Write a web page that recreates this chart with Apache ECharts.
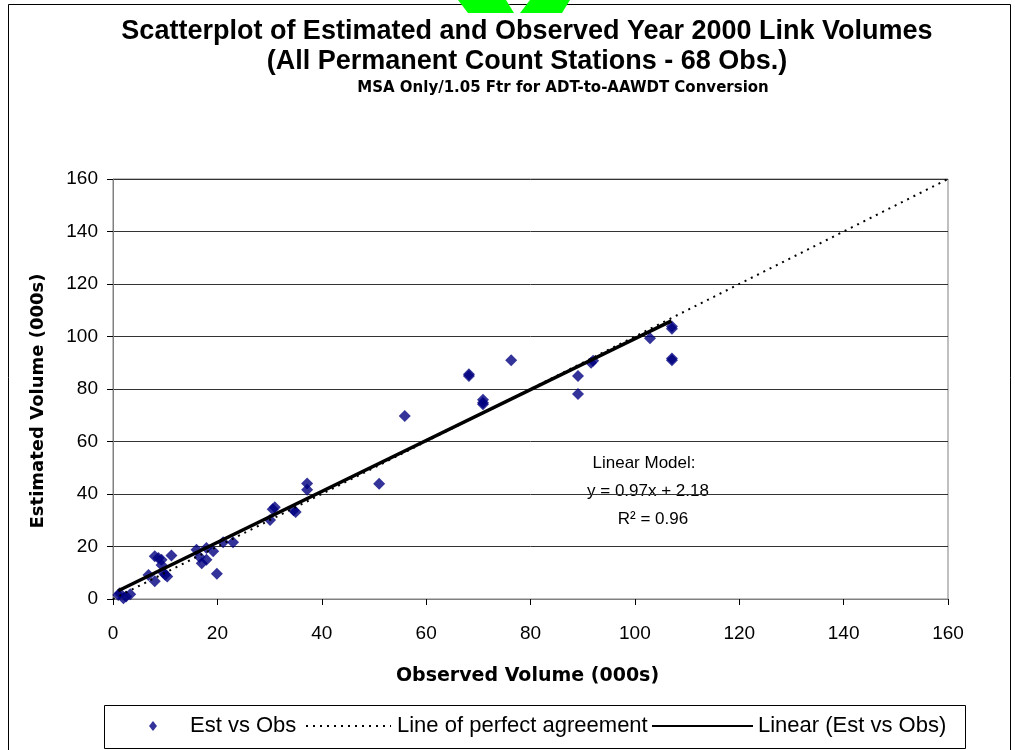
<!DOCTYPE html>
<html><head><meta charset="utf-8">
<script src="https://cdn.jsdelivr.net/npm/echarts@6/dist/echarts.min.js"></script>
<style>html,body{margin:0;padding:0;background:#fff}#c{width:1015px;height:750px}</style>
</head><body><div id="c"></div>
<script>
// Observed (x) and Estimated (y) volumes, thousands
const obsVolume = [1.0,1.3,2.0,3.3,2.5,6.8,8.0,8.0,8.7,9.3,9.3,10.0,9.6,10.4,11.2,16.0,16.6,17.0,17.9,17.9,19.2,19.9,21.1,23.0,
  30.1,30.6,31.0,34.6,35.0,37.2,37.2,51.0,55.9,68.2,68.2,70.9,70.9,70.9,76.3,89.1,89.1,91.6,92.0,102.9,107.1,107.1,107.1,107.1];
const estVolume = [1.5,2.2,0.3,1.8,1.0,9.1,6.8,16.3,15.6,15.0,13.0,9.2,10.2,8.6,16.6,18.8,16.0,13.6,19.4,15.0,18.2,9.6,21.6,21.6,
  30.1,34.2,35.0,33.8,33.1,44.0,41.6,43.9,69.7,85.6,85.0,75.9,74.8,74.2,91.0,85.0,78.1,90.0,90.8,99.3,103.8,103.0,91.6,91.0];
const perfectX = [0, 160];
const perfectY = [0, 160];
const trendX = [1, 107];
const trendY = [3.15, 105.97];
const axisTicks = [0, 20, 40, 60, 80, 100, 120, 140, 160];
const seriesNames = ['Est vs Obs', 'Line of perfect agreement', 'Linear (Est vs Obs)'];
const titleLines = ['Scatterplot of Estimated and Observed Year 2000 Link Volumes', '(All Permanent Count Stations - 68 Obs.)', 'MSA Only/1.05 Ftr for ADT-to-AAWDT Conversion'];
const modelText = ['Linear Model:', 'y = 0.97x + 2.18', 'R\u00B2 = 0.96'];

const FONT = '"Liberation Sans", Arial, sans-serif';
const WIDE = '"DejaVu Sans", "Liberation Sans", sans-serif';
const chart = echarts.init(document.getElementById('c'), null, {renderer: 'canvas'});
const zip = (a, b) => a.map((v, i) => [v, b[i]]);
const hiddenSymbol = {opacity: 0, borderWidth: 0};

chart.setOption({
  animation: false,
  backgroundColor: '#fff',
  textStyle: {fontFamily: FONT},
  title: [
    {text: titleLines[0], left: 527, textAlign: 'center', top: 18, padding: 0,
     textStyle: {fontFamily: FONT, fontWeight: 'bold', fontSize: 27, color: '#000'}},
    {text: titleLines[1], left: 527, textAlign: 'center', top: 48, padding: 0,
     textStyle: {fontFamily: FONT, fontWeight: 'bold', fontSize: 27, color: '#000'}},
    {text: titleLines[2], left: 563, textAlign: 'center', top: 81, padding: 0,
     textStyle: {fontFamily: WIDE, fontWeight: 'bold', fontSize: 15, color: '#000'}}
  ],
  grid: {left: 113, right: 67, top: 179, bottom: 151, show: true, borderColor: '#808080', borderWidth: 1, containLabel: false},
  xAxis: {
    type: 'value', min: 0, max: 160, interval: 20,
    name: 'Observed Volume (000s)', nameLocation: 'middle', nameGap: 68,
    nameTextStyle: {fontFamily: WIDE, fontWeight: 'bold', fontSize: 19, color: '#000', padding: [0, 6, 0, 0]},
    axisLine: {show: true, lineStyle: {color: '#808080', width: 1}},
    axisTick: {show: true, length: 6, lineStyle: {color: '#000'}},
    axisLabel: {fontFamily: FONT, fontSize: 19, color: '#000', margin: 25,
      formatter: v => axisTicks.includes(v) ? String(v) : ''},
    splitLine: {show: false}
  },
  yAxis: {
    type: 'value', min: 0, max: 160, interval: 20,
    name: 'Estimated Volume (000s)', nameLocation: 'middle', nameGap: 66, nameRotate: 90,
    nameTextStyle: {fontFamily: WIDE, fontWeight: 'bold', fontSize: 18, color: '#000', padding: [0, 24, 0, 0]},
    axisLine: {show: true, lineStyle: {color: '#808080', width: 1}},
    axisTick: {show: true, length: 6, lineStyle: {color: '#000'}},
    axisLabel: {fontFamily: FONT, fontSize: 19, color: '#000', margin: 15,
      formatter: v => axisTicks.includes(v) ? String(v) : ''},
    splitLine: {show: true, lineStyle: {color: '#333', width: 1}}
  },
  legend: [
    {data: [seriesNames[0]], left: 149, top: 715, padding: 0, itemWidth: 8, itemHeight: 10, icon: 'diamond',
     textStyle: {fontFamily: FONT, fontSize: 22, color: '#000', padding: [0, 0, 0, 28]}},
    {data: [seriesNames[1]], left: 305, top: 715, padding: 0, itemWidth: 85, itemHeight: 10,
     itemStyle: hiddenSymbol,
     textStyle: {fontFamily: FONT, fontSize: 22, color: '#000', padding: [0, 0, 0, 1]}},
    {data: [seriesNames[2]], left: 651, top: 715, padding: 0, itemWidth: 101, itemHeight: 10,
     itemStyle: hiddenSymbol,
     textStyle: {fontFamily: FONT, fontSize: 22, color: '#000', padding: [0, 0, 0, 0]}}
  ],
  graphic: [
    {type: 'rect', shape: {x: 8.5, y: 4.5, width: 1002, height: 760}, style: {fill: 'none', stroke: '#000', lineWidth: 1}, silent: true},
    {type: 'rect', shape: {x: 104.5, y: 705.5, width: 861, height: 43}, style: {fill: 'none', stroke: '#000', lineWidth: 1}, silent: true},
    {type: 'polygon', shape: {points: [[458,0],[506,0],[514,13],[468,13]]}, style: {fill: '#00ff00'}, silent: true},
    {type: 'polygon', shape: {points: [[530,0],[570,0],[562,13],[520,13]]}, style: {fill: '#00ff00'}, silent: true},
    {type: 'text', style: {x: 644, y: 463, text: modelText[0], textAlign: 'center', textVerticalAlign: 'middle', font: '17px ' + FONT, fill: '#000'}, silent: true},
    {type: 'text', style: {x: 648, y: 491, text: modelText[1], textAlign: 'center', textVerticalAlign: 'middle', font: '17px ' + FONT, fill: '#000'}, silent: true},
    {type: 'text', style: {x: 653, y: 519, text: modelText[2], textAlign: 'center', textVerticalAlign: 'middle', font: '17px ' + FONT, fill: '#000'}, silent: true}
  ],
  series: [
    {name: seriesNames[0], type: 'scatter', data: zip(obsVolume, estVolume), symbol: 'diamond', symbolSize: 12,
     itemStyle: {color: '#000080'}, z: 2},
    {name: seriesNames[1], type: 'line', data: zip(perfectX, perfectY), showSymbol: false, symbol: 'none',
     lineStyle: {color: '#000', width: 2, type: [2, 5]}, itemStyle: {color: '#000'}, z: 3},
    {name: seriesNames[2], type: 'line', data: zip(trendX, trendY), showSymbol: false, symbol: 'none',
     lineStyle: {color: '#000', width: 3.5, type: 'solid'}, itemStyle: {color: '#000'}, z: 4}
  ]
});
</script></body></html>
